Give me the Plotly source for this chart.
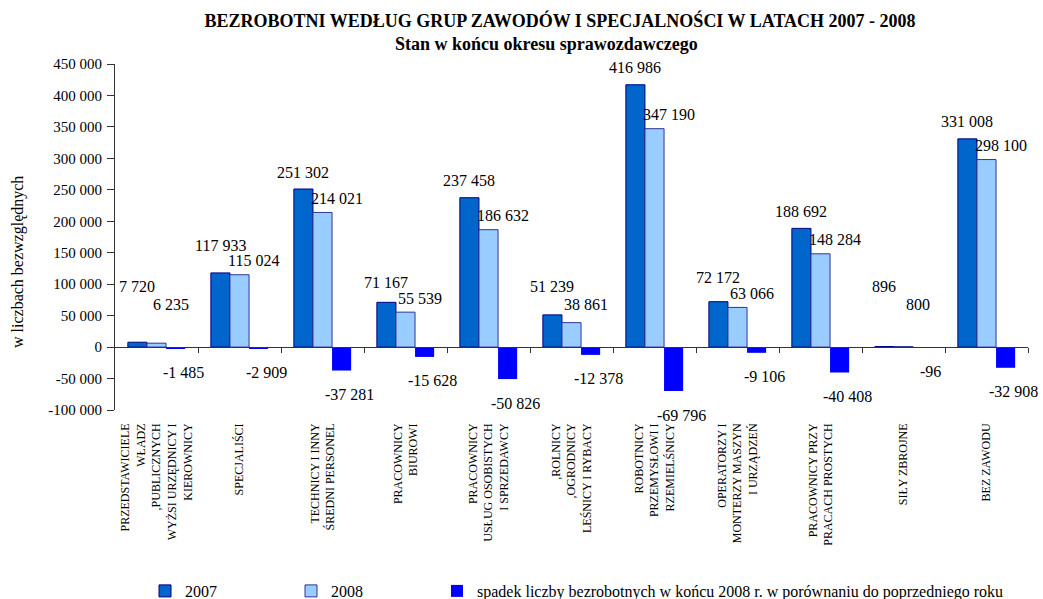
import plotly.graph_objects as go

categories = [
    "PRZEDSTAWICIELE<br>WŁADZ<br>,PUBLICZNYCH<br>WYŻSI URZĘDNICY I<br>KIEROWNICY",
    "SPECJALIŚCI",
    "TECHNICY I INNY<br>ŚREDNI PERSONEL",
    "PRACOWNICY<br>BIUROWI",
    "PRACOWNICY<br>USŁUG OSOBISTYCH<br>I SPRZEDAWCY",
    ",ROLNICY<br>,OGRODNICY<br>LEŚNICY I RYBACY",
    "ROBOTNICY<br>PRZEMYSŁOWI I<br>RZEMIELŚNICY",
    "OPERATORZY I<br>MONTERZY MASZYN<br>I URZĄDZEŃ",
    "PRACOWNICY PRZY<br>PRACACH PROSTYCH",
    "SIŁY ZBROJNE",
    "BEZ ZAWODU",
]
values_2007 = [7720, 117933, 251302, 71167, 237458, 51239, 416986, 72172, 188692, 896, 331008]
values_2008 = [6235, 115024, 214021, 55539, 186632, 38861, 347190, 63066, 148284, 800, 298100]
values_diff = [-1485, -2909, -37281, -15628, -50826, -12378, -69796, -9106, -40408, -96, -32908]
series_names = ["2007", "2008", "spadek liczby bezrobotnych w końcu 2008 r. w porównaniu do poprzedniego roku"]
y_ticks = list(range(-100000, 450001, 50000))

FONT = "Liberation Serif"
Y_MIN, Y_MAX = -100000, 450000
BARGAP = 0.31
BAR_W = (1 - BARGAP) / 3
W, H = 1043, 599
ML, MR, MT, MB = 115, 15, 64, 189
PW, PH = W - ML - MR, H - MT - MB


def fmt(v):
    return f"{v:,}".replace(",", " ")


def px_x(px):
    return (px - ML) / PW


def px_y(py):
    return (H - MB - py) / PH


fig = go.Figure()
fig.add_trace(go.Bar(x=categories, y=values_2007, name=series_names[0], legend="legend",
                     marker=dict(color="#0066CC", line=dict(color="#000080", width=1))))
fig.add_trace(go.Bar(x=categories, y=values_2008, name=series_names[1], legend="legend2",
                     marker=dict(color="#99CCFF", line=dict(color="#333399", width=1))))
fig.add_trace(go.Bar(x=categories, y=values_diff, name=series_names[2], legend="legend3",
                     marker=dict(color="#0000FF", line=dict(color="#0000FF", width=0))))
# empty trace to host the zero-level category axis
fig.add_trace(go.Scatter(x=[], y=[], xaxis="x2", showlegend=False, hoverinfo="skip"))

lab_font = dict(family=FONT, size=16, color="black")
annotations = []
for i in range(len(categories)):
    annotations.append(dict(x=i - BAR_W, y=max(values_2007[i], values_2008[i] + 20000, 70000), yshift=17,
                            text=fmt(values_2007[i]), showarrow=False,
                            xref="x", yref="y", font=lab_font))
    annotations.append(dict(x=i + 0.17, y=max(values_2008[i], 45000), yshift=14,
                            text=fmt(values_2008[i]), showarrow=False,
                            xref="x", yref="y", font=lab_font))
    annotations.append(dict(x=i + BAR_W + 0.10, y=values_diff[i], yshift=-24,
                            text=fmt(values_diff[i]), showarrow=False,
                            xref="x", yref="y", font=lab_font))

annotations.append(dict(text="<b>Stan w końcu okresu sprawozdawczego</b>", x=px_x(546), y=px_y(44),
                        xref="paper", yref="paper", showarrow=False, xanchor="center", yanchor="middle",
                        font=dict(family=FONT, size=18, color="black")))
annotations.append(dict(text="w liczbach bezwzględnych", textangle=-90, x=px_x(18), y=px_y(262),
                        xref="paper", yref="paper",
                        showarrow=False, xanchor="center", yanchor="middle",
                        font=dict(family=FONT, size=16, color="black")))

leg_common = dict(orientation="h", xanchor="left", yanchor="middle", y=px_y(591),
                  font=dict(family=FONT, size=16, color="black"), itemwidth=30,
                  bgcolor="rgba(0,0,0,0)")

fig.update_layout(
    width=W, height=H,
    margin=dict(l=ML, r=MR, t=MT, b=MB, autoexpand=False),
    paper_bgcolor="white", plot_bgcolor="white",
    barmode="group", bargap=BARGAP, bargroupgap=0,
    font=dict(family=FONT, size=13, color="black"),
    title=dict(text="<b>BEZROBOTNI WEDŁUG GRUP ZAWODÓW I SPECJALNOŚCI W LATACH 2007 - 2008</b>",
               x=560 / W, xanchor="center", y=1 - 21 / H, yanchor="middle",
               font=dict(family=FONT, size=18, color="black")),
    xaxis=dict(type="category", range=[-0.5, 10.5], showline=False, ticks="", showgrid=False,
               tickangle=-90, ticklabelstandoff=10,
               tickfont=dict(family=FONT, size=12, color="black")),
    xaxis2=dict(overlaying="x", anchor="free", position=(0 - Y_MIN) / (Y_MAX - Y_MIN),
                range=[-0.5, 10.5], tickmode="array", tickvals=[k + 0.5 for k in range(11)],
                ticks="outside", ticklen=5, tickcolor="#333", showline=True, linecolor="#333",
                linewidth=1, showticklabels=False, showgrid=False, zeroline=False),
    yaxis=dict(range=[Y_MIN, Y_MAX], tickmode="array", tickvals=y_ticks,
               ticktext=[fmt(v) for v in y_ticks], ticks="outside", ticklen=7, tickcolor="#333",
               ticklabelstandoff=2,
               showline=True, linecolor="#333", linewidth=1, showgrid=False, zeroline=False,
               tickfont=dict(family=FONT, size=15, color="black")),
    legend=dict(x=px_x(187 - 42), **leg_common),
    legend2=dict(x=px_x(333 - 42), **leg_common),
    legend3=dict(x=px_x(479 - 42), **leg_common),
    annotations=annotations,
    showlegend=True,
)

fig.write_html("out.html", config={"displayModeBar": False},
               post_script="document.body.style.margin='0';document.body.style.padding='0';")
